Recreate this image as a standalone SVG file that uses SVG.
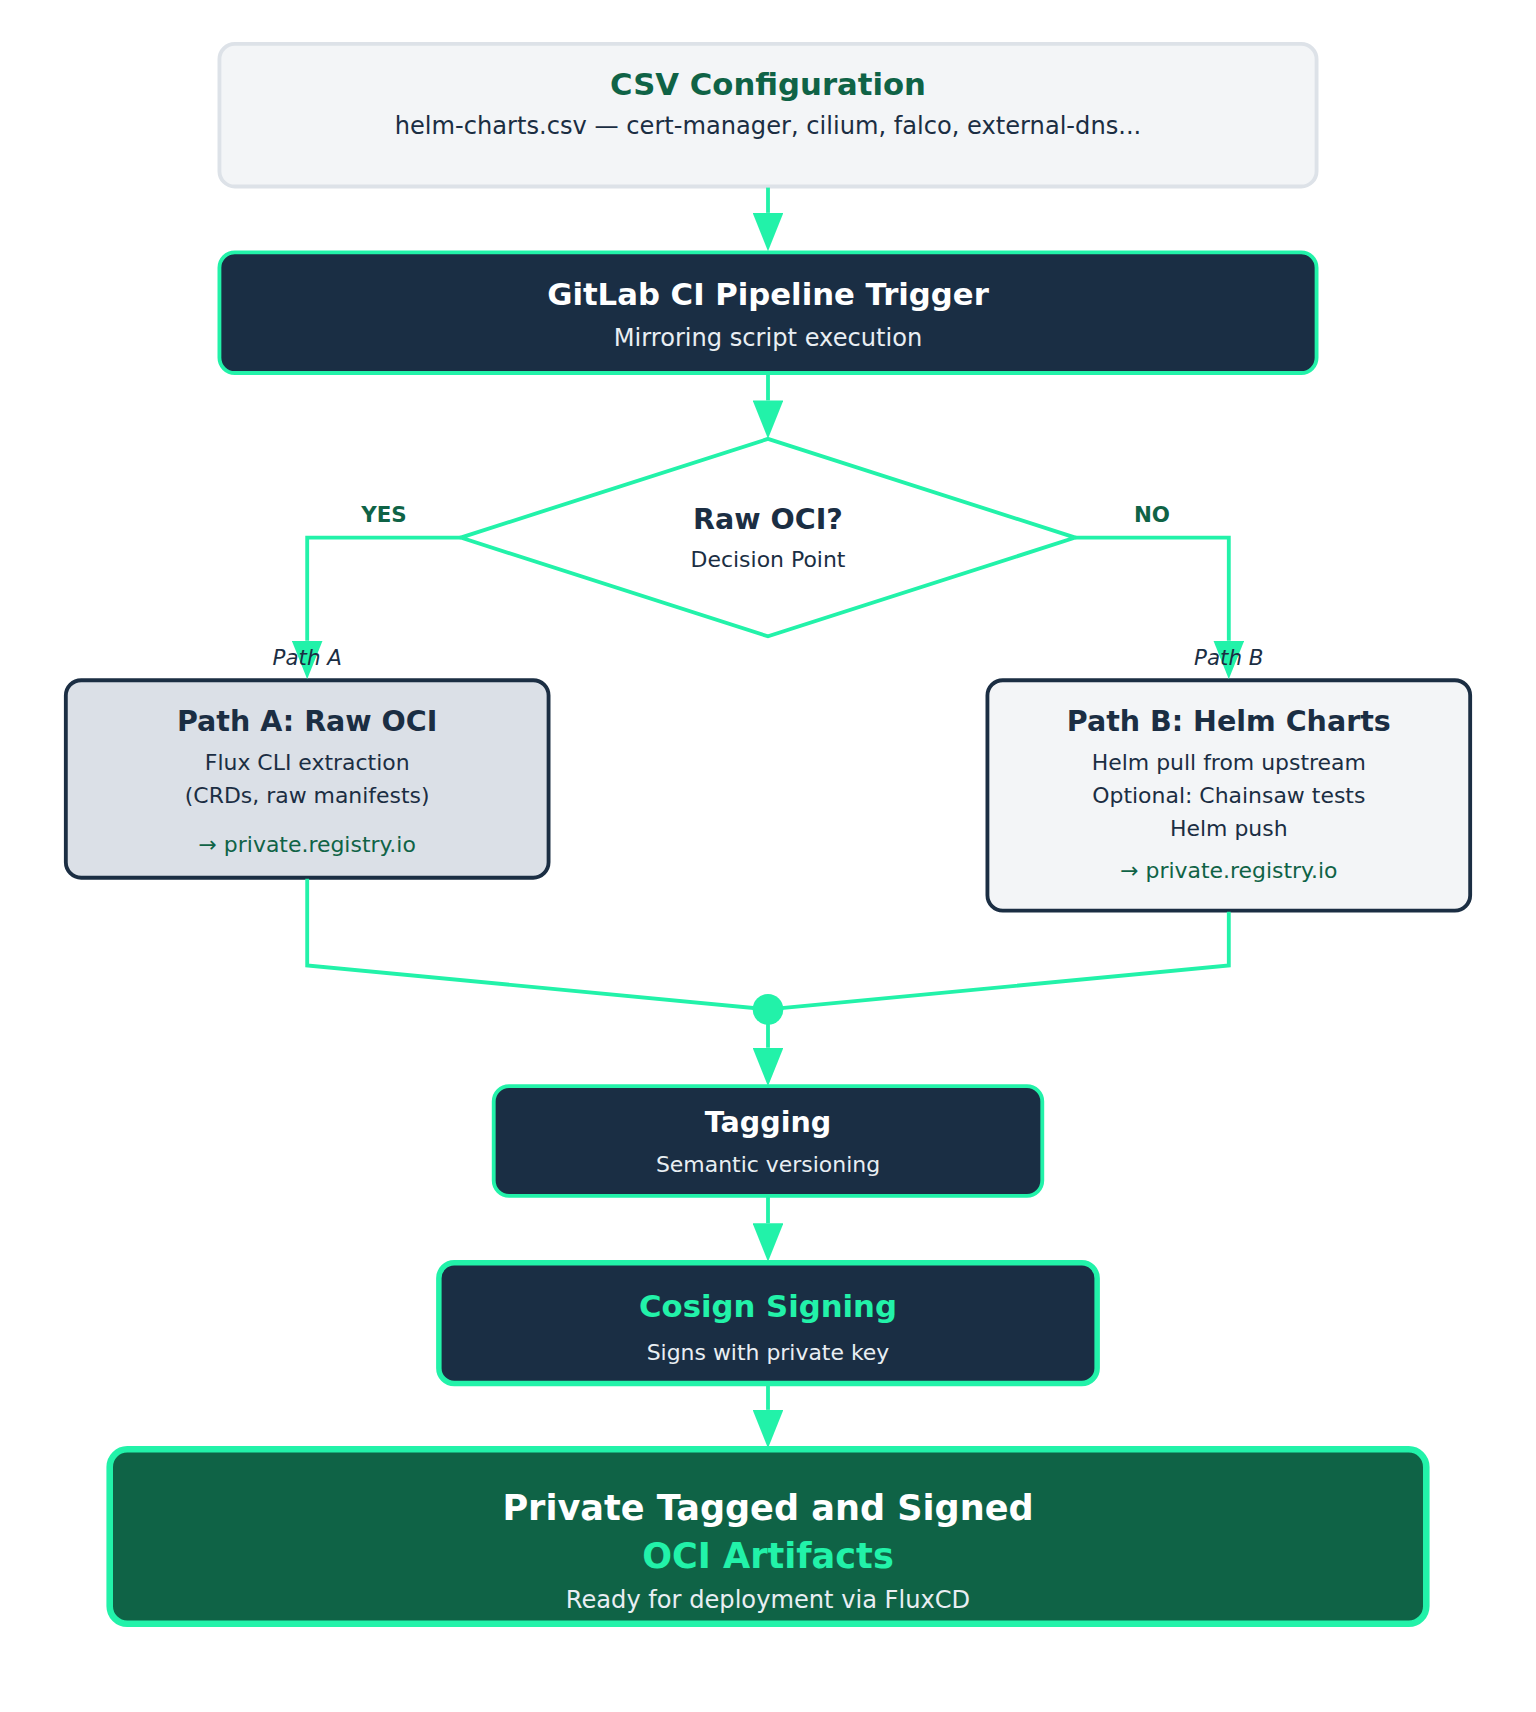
<svg xmlns="http://www.w3.org/2000/svg" width="1536" height="1712" viewBox="0 0 1536 1712">
<defs>
<style>
text{font-family:"DejaVu Sans","Noto Sans",sans-serif;text-anchor:middle}
.t26{font-weight:bold;font-size:26px}
.t28{font-weight:bold;font-size:28px}
.t32{font-weight:bold;font-size:32px}
.s20{font-size:20px}
.s22{font-size:22px}
.lbl{font-weight:bold;font-size:19.5px;fill:#0f6346}
.path{font-style:italic;font-size:19.5px;fill:#1b2e43}
.dark{fill:#1b2e43}
.green{fill:#0f6346}
.accent{fill:#22f2a9}
.white{fill:#ffffff}
.light{fill:#e9eef3}
.conn{fill:none;stroke:#22f2a9;stroke-width:3.5}
</style>
<marker id="ah" markerUnits="userSpaceOnUse" markerWidth="35" markerHeight="28" refX="0" refY="14" orient="auto" viewBox="0 0 35 28">
<path d="M0,0 L35,14 L0,28 Z" fill="#22f2a9"/>
</marker>
</defs>
<rect width="1536" height="1712" fill="#ffffff"/>
<g transform="scale(1.097143)">
<g id="csv">
<rect x="200" y="40" width="1000" height="130" rx="14" fill="#f3f5f7" stroke="#dde2e8" stroke-width="3.5"/>
<text x="700" y="87" class="t28 green">CSV Configuration</text>
<text x="700" y="122" class="s22 dark">helm-charts.csv — cert-manager, cilium, falco, external-dns...</text>
</g>
<g id="gitlab">
<rect x="200" y="230" width="1000" height="110" rx="14" fill="#1a2e44" stroke="#22f2a9" stroke-width="3.5"/>
<text x="700" y="278" class="t28 white">GitLab CI Pipeline Trigger</text>
<text x="700" y="315.5" class="s22 light">Mirroring script execution</text>
</g>
<g id="decision">
<polygon points="700,400 980,490 700,580 420,490" fill="#ffffff" stroke="#22f2a9" stroke-width="3.5"/>
<text x="700" y="482" class="t26 dark">Raw OCI?</text>
<text x="700" y="516.5" class="s20 dark">Decision Point</text>
</g>
<g id="pathA">
<rect x="60" y="620" width="440" height="180" rx="14" fill="#dbe0e7" stroke="#1b2e43" stroke-width="3.5"/>
<text x="280" y="666" class="t26 dark">Path A: Raw OCI</text>
<text x="280" y="702" class="s20 dark">Flux CLI extraction</text>
<text x="280" y="732" class="s20 dark">(CRDs, raw manifests)</text>
<text x="280" y="776.5" class="s20 green">→ private.registry.io</text>
</g>
<g id="pathB">
<rect x="900" y="620" width="440" height="210" rx="14" fill="#f3f5f7" stroke="#1b2e43" stroke-width="3.5"/>
<text x="1120" y="666" class="t26 dark">Path B: Helm Charts</text>
<text x="1120" y="702" class="s20 dark">Helm pull from upstream</text>
<text x="1120" y="732" class="s20 dark">Optional: Chainsaw tests</text>
<text x="1120" y="762" class="s20 dark">Helm push</text>
<text x="1120" y="800" class="s20 green">→ private.registry.io</text>
</g>
<g id="tagging">
<rect x="450" y="990" width="500" height="100" rx="14" fill="#1a2e44" stroke="#22f2a9" stroke-width="3.5"/>
<text x="700" y="1032" class="t26 white">Tagging</text>
<text x="700" y="1068" class="s20 light">Semantic versioning</text>
</g>
<g id="cosign">
<rect x="400" y="1151" width="600" height="110" rx="14" fill="#1a2e44" stroke="#22f2a9" stroke-width="5"/>
<text x="700" y="1200" class="t28 accent">Cosign Signing</text>
<text x="700" y="1240" class="s20 light">Signs with private key</text>
</g>
<g id="artifacts">
<rect x="100" y="1321" width="1200" height="159" rx="16" fill="#0f6346" stroke="#22f2a9" stroke-width="6"/>
<text x="700" y="1385" class="t32 white">Private Tagged and Signed</text>
<text x="700" y="1429" class="t32 accent">OCI Artifacts</text>
<text x="700" y="1466" class="s22 light">Ready for deployment via FluxCD</text>
</g>
<g id="connectors">
<line x1="700" y1="171" x2="700" y2="194" class="conn" marker-end="url(#ah)"/>
<line x1="700" y1="341" x2="700" y2="365" class="conn" marker-end="url(#ah)"/>
<polyline points="420,490 280,490 280,584" class="conn" marker-end="url(#ah)"/>
<polyline points="980,490 1120,490 1120,584" class="conn" marker-end="url(#ah)"/>
<polyline points="280,801 280,880 700,920" class="conn"/>
<polyline points="1120,831 1120,880 700,920" class="conn"/>
<line x1="700" y1="920" x2="700" y2="955" class="conn" marker-end="url(#ah)"/>
<line x1="700" y1="1091" x2="700" y2="1115" class="conn" marker-end="url(#ah)"/>
<line x1="700" y1="1263" x2="700" y2="1285" class="conn" marker-end="url(#ah)"/>
<text x="350" y="476" class="lbl">YES</text>
<text x="1050" y="476" class="lbl">NO</text>
<text x="280" y="606" class="path">Path A</text>
<text x="1120" y="606" class="path">Path B</text>
</g>
<g id="merge">
<circle cx="700" cy="920" r="14" fill="#22f2a9"/>
</g>
</g>
</svg>
